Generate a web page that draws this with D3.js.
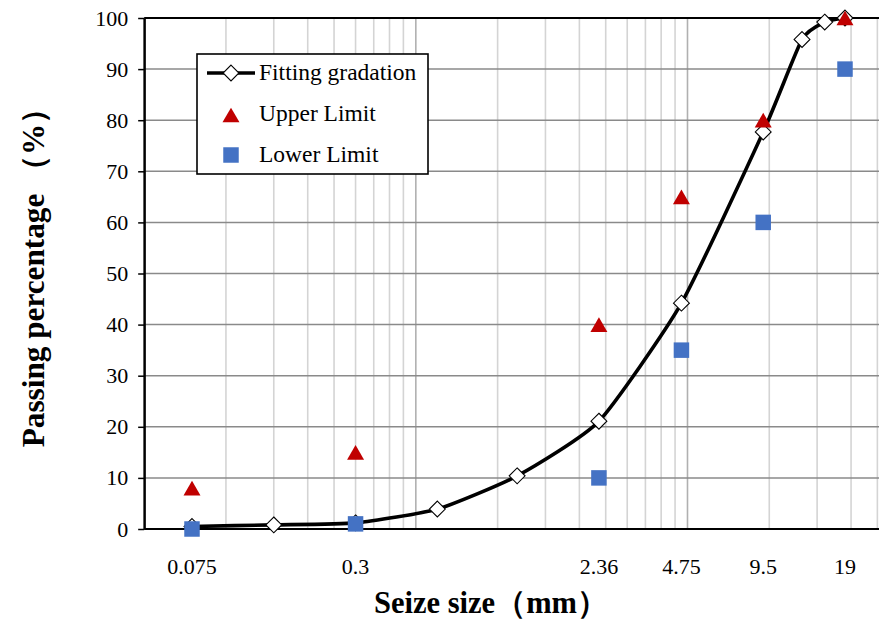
<!DOCTYPE html>
<html>
<head>
<meta charset="utf-8">
<script src="https://cdn.jsdelivr.net/npm/d3@7"></script>
<style>
  body { margin: 0; background: #fff; }
  svg { display: block; font-family: "Liberation Serif", "Times New Roman", serif; }
</style>
</head>
<body>
<svg id="chart" width="879" height="621"></svg>
<script>
// sieve sizes (mm) and passing percentages
var fit_sizes = [0.075, 0.15, 0.3, 0.6, 1.18, 2.36, 4.75, 9.5, 13.2, 16, 19];
var fit_values = [0.5, 0.8, 1.2, 3.9, 10.4, 21.1, 44.2, 77.7, 95.8, 99.2, 100];
var limit_sizes = [0.075, 0.3, 2.36, 4.75, 9.5, 19];
var upper_values = [8, 15, 40, 65, 80, 100];
var lower_values = [0, 1, 10, 35, 60, 90];
var x_tick_labels = ["0.075", "0.3", "2.36", "4.75", "9.5", "19"];
var y_ticks = [0, 10, 20, 30, 40, 50, 60, 70, 80, 90, 100];

var serif = "'Liberation Serif', 'Times New Roman', serif";
var svg = d3.select("#chart");

// plot runs past the right edge of the picture, like the source
var x = d3.scaleLog().domain([0.075, 19]).range([192, 845]);
var x_min = 0.05, x_max = 50;
var y = d3.scaleLinear().domain([0, 100]).range([529, 18]);

var left = x(x_min), right = x(x_max);

// vertical grid: 0.05 based log grid (0.05..0.45, 0.5..4.5, 5..45)
var v_grid = [];
[0.05, 0.5, 5].forEach(function (b) {
  for (let k = 1; k <= 9; k++) v_grid.push({v: b * k, major: k == 1});
});
v_grid.push({v: 50, major: true});

svg.append("g").selectAll("line")
  .data(v_grid)
  .enter().append("line")
  .attr("x1", d => x(d.v)).attr("x2", d => x(d.v))
  .attr("y1", y(0)).attr("y2", y(100))
  .attr("stroke", d => d.major ? "#b0b0b0" : "#d4d4d4")
  .attr("stroke-width", 1.6);

svg.append("g").selectAll("line")
  .data(y_ticks.slice(1, -1))
  .enter().append("line")
  .attr("x1", left).attr("x2", right)
  .attr("y1", d => y(d)).attr("y2", d => y(d))
  .attr("stroke", "#8a8a8a")
  .attr("stroke-width", 1.5);

// frame lines: bottom, top
svg.append("line").attr("x1", left).attr("x2", right).attr("y1", y(0)).attr("y2", y(0))
  .attr("stroke", "#000").attr("stroke-width", 2.2);
svg.append("line").attr("x1", left).attr("x2", right).attr("y1", y(100)).attr("y2", y(100))
  .attr("stroke", "#000").attr("stroke-width", 2.2);

var y_axis = svg.append("g")
  .attr("transform", "translate(" + left + ",0)")
  .call(d3.axisLeft(y).tickValues(y_ticks).tickSize(6).tickSizeOuter(0).tickPadding(10));
y_axis.attr("font-family", serif).attr("font-size", 22);
y_axis.select(".domain").attr("stroke", "#000").attr("stroke-width", 2.4);
y_axis.selectAll(".tick line").attr("stroke", "#000").attr("stroke-width", 1.5);
y_axis.selectAll(".tick text").attr("fill", "#000");

// x labels only at the sieve sizes
svg.append("g").selectAll("text")
  .data(limit_sizes)
  .enter().append("text")
  .attr("x", d => x(d)).attr("y", 574)
  .attr("text-anchor", "middle")
  .style("font-size", "22px")
  .text((d, i) => x_tick_labels[i]);

// axis titles, fitted to the width they take in the source
function fit_text(sel, target)
{
  let w = sel.node().getComputedTextLength();
  let fs = parseFloat(sel.style("font-size"));
  if (w > 0) sel.style("font-size", (fs * target / w) + "px");
}

var x_title = svg.append("text")
  .attr("x", 491).attr("y", 613)
  .attr("text-anchor", "middle")
  .style("font-size", "30px").style("font-weight", "bold")
  .text("Seize size（mm）");
fit_text(x_title, 233);

var y_title = svg.append("text")
  .attr("transform", "translate(44,270) rotate(-90)")
  .attr("text-anchor", "middle")
  .style("font-size", "30px").style("font-weight", "bold")
  .text("Passing percentage （%）");
fit_text(y_title, 355);

// fitting curve
var fit_data = fit_sizes.map((s, i) => [s, fit_values[i]]);
var line = d3.line().x(d => x(d[0])).y(d => y(d[1])).curve(d3.curveCardinal.tension(0.45));

svg.append("path")
  .datum(fit_data)
  .attr("d", line)
  .attr("fill", "none")
  .attr("stroke", "#000")
  .attr("stroke-width", 3.6)
  .attr("stroke-linejoin", "round");

var diamond = d3.symbol().type(d3.symbolDiamond2).size(160);
var tri_size = 125;
var tri_shift = Math.sqrt(tri_size / (3 * Math.sqrt(3))) / 2;
var triangle = d3.symbol().type(d3.symbolTriangle).size(tri_size);
var square = d3.symbol().type(d3.symbolSquare).size(240);

svg.append("g").selectAll("path")
  .data(fit_data)
  .enter().append("path")
  .attr("transform", d => "translate(" + x(d[0]) + "," + y(d[1]) + ")")
  .attr("d", diamond)
  .attr("fill", "#fff").attr("stroke", "#000").attr("stroke-width", 1.1);

svg.append("g").selectAll("path")
  .data(limit_sizes)
  .enter().append("path")
  .attr("transform", (d, i) => "translate(" + x(d) + "," + (y(upper_values[i]) + tri_shift) + ")")
  .attr("d", triangle)
  .attr("fill", "#c00000");

svg.append("g").selectAll("path")
  .data(limit_sizes)
  .enter().append("path")
  .attr("transform", (d, i) => "translate(" + x(d) + "," + y(lower_values[i]) + ")")
  .attr("d", square)
  .attr("fill", "#4472c4");

// legend
var legend = svg.append("g").attr("transform", "translate(197,54)");
legend.append("rect")
  .attr("width", 231).attr("height", 120)
  .attr("fill", "#fff").attr("stroke", "#000").attr("stroke-width", 1.6);
legend.append("line")
  .attr("x1", 10).attr("x2", 58).attr("y1", 19).attr("y2", 19)
  .attr("stroke", "#000").attr("stroke-width", 3.6);
legend.append("path")
  .attr("transform", "translate(34,19)").attr("d", diamond)
  .attr("fill", "#fff").attr("stroke", "#000").attr("stroke-width", 1.1);
legend.append("path")
  .attr("transform", "translate(34," + (61 + tri_shift) + ")").attr("d", triangle)
  .attr("fill", "#c00000");
legend.append("path")
  .attr("transform", "translate(34,101)").attr("d", square)
  .attr("fill", "#4472c4");

var legend_names = ["Fitting gradation", "Upper Limit", "Lower Limit"];
legend.selectAll("text.lg")
  .data(legend_names)
  .enter().append("text")
  .attr("class", "lg")
  .attr("x", 62).attr("y", (d, i) => 26 + i * 40.8)
  .style("font-size", "23.5px")
  .text(d => d);
</script>
</body>
</html>
